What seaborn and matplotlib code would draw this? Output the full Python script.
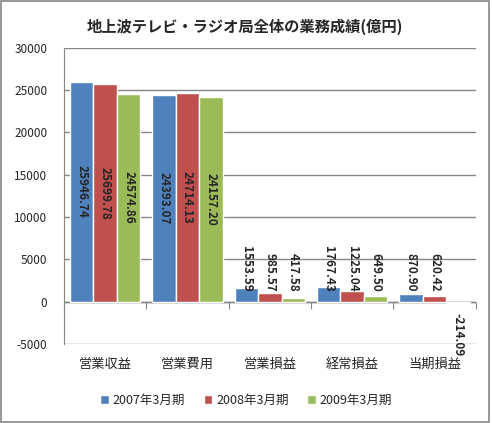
import numpy as np
import pandas as pd
import matplotlib
matplotlib.use("Agg")
import matplotlib.pyplot as plt
import seaborn as sns
from matplotlib.patches import Rectangle

# === Data (億円) ===
categories = ["営業収益", "営業費用", "営業損益", "経常損益", "当期損益"]
periods = ["2007年3月期", "2008年3月期", "2009年3月期"]
v2007 = [25946.74, 24393.07, 1553.59, 1767.43, 870.90]
v2008 = [25699.78, 24714.13, 985.57, 1225.04, 620.42]
v2009 = [24574.86, 24157.20, 417.58, 649.50, -214.09]
yticks = [-5000, 0, 5000, 10000, 15000, 20000, 25000, 30000]

colors = ["#4F81BD", "#C0504D", "#9BBB59"]

df = pd.DataFrame({
    "category": categories * 3,
    "period": [p for p in periods for _ in categories],
    "value": v2007 + v2008 + v2009,
})

sns.set_style("white")
plt.rcParams["font.family"] = ["Noto Sans CJK JP", "DejaVu Sans"]

fig = plt.figure(figsize=(4.92, 4.23), dpi=100)
ax = fig.add_axes([0.130, 0.187, 0.837, 0.700])

sns.barplot(data=df, x="category", y="value", hue="period", order=categories,
            hue_order=periods, palette=colors, saturation=1, width=0.855,
            gap=0, ax=ax, legend=True)

ax.set_ylim(-5000, 30000)
ax.set_xlim(-0.5, 4.5)
ax.set_yticks(yticks)
ax.set_yticklabels([str(t) for t in yticks], fontsize=8.5)
ax.yaxis.grid(True, color="#868686", linewidth=1)
ax.set_axisbelow(True)
ax.tick_params(axis="y", length=5, color="#868686", pad=7)
ax.tick_params(axis="x", length=0, labelsize=9.5, pad=10)
ax.set_xlabel("")
ax.set_ylabel("")
for s in ["top", "right", "bottom"]:
    ax.spines[s].set_visible(False)
ax.spines["left"].set_color("#868686")

# zero line (behind bars) with category separator ticks
ax.axhline(0, color="#868686", linewidth=1, zorder=0.8)
sec = ax.secondary_xaxis(5000 / 35000)
sec.set_xticks(np.arange(len(categories) + 1) - 0.5)
sec.set_xticklabels([])
sec.tick_params(length=5, color="#868686", direction="out")
sec.spines["bottom"].set_visible(False)

# value labels
for cont in ax.containers:
    for bar in cont:
        v = bar.get_height()
        x = bar.get_x() + bar.get_width() / 2
        txt = f"{v:.2f}"
        if v > 5000:
            ax.text(x, v / 2, txt, rotation=-90, ha="center", va="center",
                    fontsize=8.5, fontweight="bold")
        elif v >= 0:
            ax.text(x, 1150, txt, rotation=-90, ha="center", va="bottom",
                    fontsize=8.5, fontweight="bold")
        else:
            ax.text(x, v - 1100, txt, rotation=-90, ha="center", va="top",
                    fontsize=8.5, fontweight="bold")

leg = ax.legend(loc="center", bbox_to_anchor=(0.5, 0.054),
                bbox_transform=fig.transFigure, ncol=3, frameon=False,
                fontsize=9, handlelength=0.7, handleheight=0.7,
                handletextpad=0.3, columnspacing=1.5)

fig.suptitle("地上波テレビ・ラジオ局全体の業務成績(億円)", x=0.497, y=0.955,
             fontsize=11, fontweight="bold")

fig.patches.append(Rectangle((0.002, 0.003), 0.992, 0.994, transform=fig.transFigure,
                             fill=False, edgecolor="#868686", linewidth=1.2))

fig.savefig("out.png", dpi=100)
